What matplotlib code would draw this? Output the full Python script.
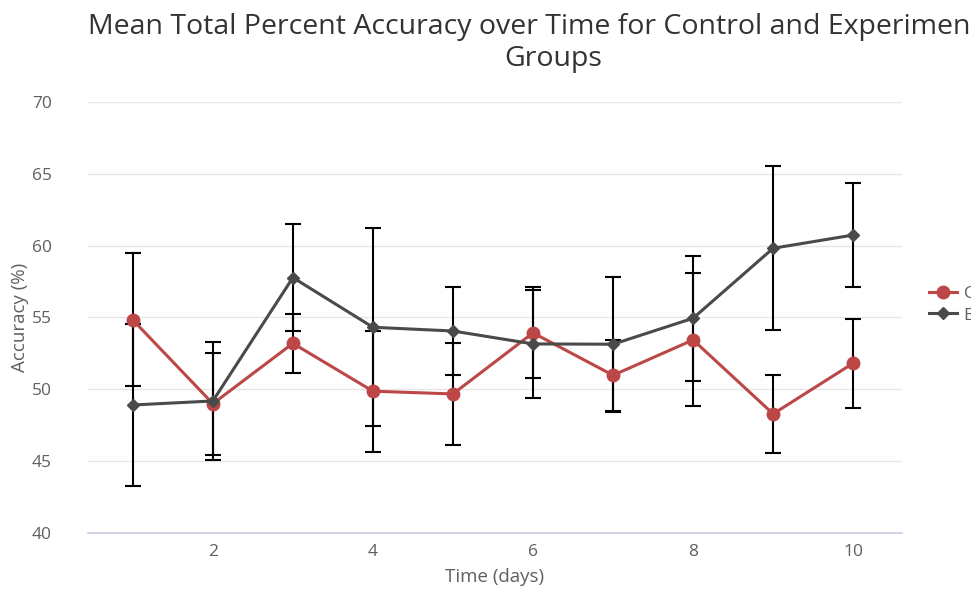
import matplotlib.pyplot as plt
import numpy as np

plt.rcParams['font.family'] = ['Open Sans', 'DejaVu Sans']

# days
days = [1, 2, 3, 4, 5, 6, 7, 8, 9, 10]

# control group: mean accuracy and error
control_mean = [54.83, 49.0, 53.2, 49.87, 49.68, 53.93, 50.98, 53.44, 48.29, 51.82]
control_err = [4.63, 3.55, 2.04, 4.21, 3.55, 3.17, 2.47, 4.63, 2.69, 3.11]

# experimental group
exp_mean = [48.91, 49.19, 57.78, 54.32, 54.06, 53.16, 53.14, 54.95, 59.82, 60.74]
exp_err = [5.67, 4.1, 3.74, 6.9, 3.06, 3.76, 4.69, 4.35, 5.72, 3.65]

red = '#bd4747'
dark = '#4a4a4a'
txt = '#5f5f5f'

fig = plt.figure(figsize=(9.71, 5.94), dpi=100)
ax = fig.add_axes([88 / 971, 1 - 533 / 594, (902 - 88) / 971, (533 - 102) / 594])

ax.errorbar(days, control_mean, yerr=control_err, fmt='none', ecolor='black',
            elinewidth=1.5, capsize=5.5, capthick=1.5, zorder=2)
ax.errorbar(days, exp_mean, yerr=exp_err, fmt='none', ecolor='black',
            elinewidth=1.5, capsize=5.5, capthick=1.5, zorder=2)

ax.plot(days, control_mean, color=red, linewidth=2.2, marker='o', markersize=9,
        label='Control', zorder=3)
ax.plot(days, exp_mean, color=dark, linewidth=2.2, marker='D', markersize=6,
        label='Experimental', zorder=3)

ax.set_xlim(0.44, 10.61)
ax.set_ylim(40, 70)
ax.set_xticks([2, 4, 6, 8, 10])
ax.set_yticks([40, 45, 50, 55, 60, 65, 70])
ax.grid(axis='y', color='#e6e6e6', linewidth=1)
ax.set_axisbelow(True)
for s in ['top', 'right', 'left']:
    ax.spines[s].set_visible(False)
ax.spines['bottom'].set_color('#c9cde3')
ax.spines['bottom'].set_linewidth(1.2)
ax.tick_params(axis='both', length=0, labelsize=12.5, colors=txt)
ax.tick_params(axis='x', pad=8)
ax.tick_params(axis='y', pad=26)

ax.set_xlabel('Time (days)', fontsize=13.5, color=txt, labelpad=6)
ax.set_ylabel('Accuracy (%)', fontsize=13.5, color=txt, labelpad=2)

# title is cut off at the right edge, as in the original
fig.text(88 / 971, 1 - 27 / 594,
         'Mean Total Percent Accuracy over Time for Control and Experimental',
         ha='left', va='center', fontsize=20.5, color='#333333')
fig.text(553 / 971, 1 - 59 / 594, 'Groups', ha='center', va='center',
         fontsize=20.5, color='#333333')

ax.legend(loc='upper left', bbox_to_anchor=(929 / 971, 1 - 286 / 594),
          bbox_transform=fig.transFigure, frameon=False, fontsize=12.5,
          handlelength=1.6, labelspacing=0.3, borderaxespad=0, borderpad=0,
          handletextpad=0.4, labelcolor=txt)

fig.savefig('out.png', dpi=100)
